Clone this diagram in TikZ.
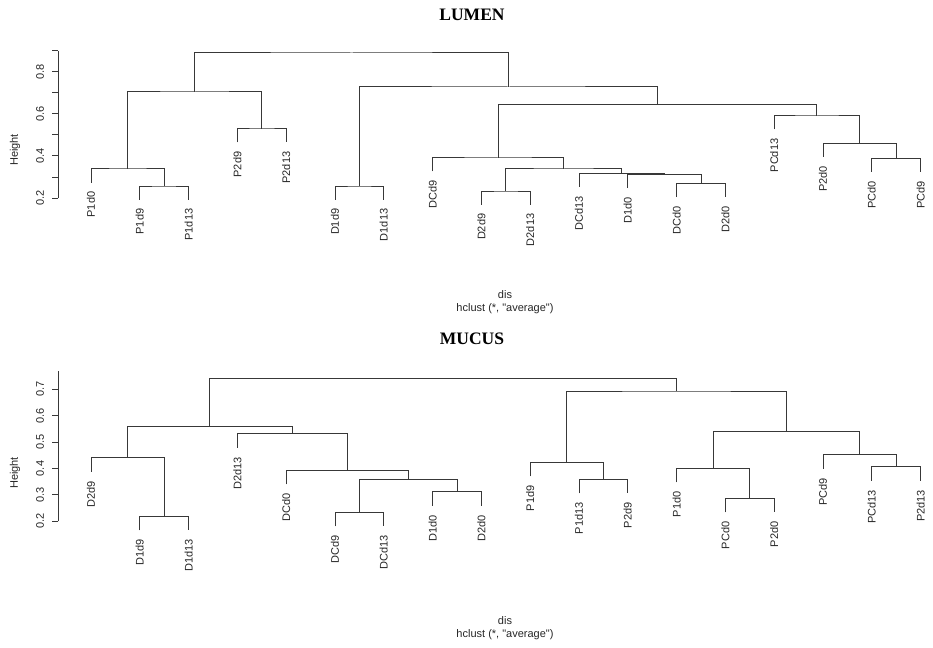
\documentclass[tikz,border=0pt]{standalone}
\usepackage{fontspec}
\setmainfont{Liberation Sans}[Ligatures=TeXOff]
\newfontfamily\ttlfont{Liberation Serif}
\usetikzlibrary{positioning}
\tikzset{
  link/.style   = {draw=black!78, line width=1pt},
  leaf/.style   = {rotate=90, anchor=east, inner sep=0pt, text=black!85,
                   font=\fontsize{11}{13}\selectfont},
  axlab/.style  = {rotate=90, inner sep=0pt, text=black!85,
                   font=\fontsize{11}{13}\selectfont},
  ttl/.style    = {font=\ttlfont\bfseries\fontsize{17.5}{20}\selectfont},
  sub/.style    = {align=center, text=black!85, font=\fontsize{11}{13}\selectfont}
}

\begin{document}
\begin{tikzpicture}[x=1pt,y=-1pt]
  \useasboundingbox (0,0) rectangle (933,647);

  % LUMEN
  \node[ttl] (L-title) at (472,15) {LUMEN};
  \draw[link] (58,198) -- (58,51);
  \foreach \yy in {198,177,156,135,114,93,72,51}
    \draw[link] (58,\yy) -- (52,\yy);
  \foreach \v/\yy in {0.2/198,0.4/156,0.6/114,0.8/72}
    \node[axlab] at (40,\yy) {\v};
  \node[axlab] (L-ylab) at (15,150) {Height};

  \foreach \lab/\xx/\yy in {P1d0/91/182.5, P1d9/139.8/199.5, P1d13/188.6/199.5,
      P2d9/237.4/142.5, P2d13/286.2/142.5, D1d9/335/199.5, D1d13/383.8/199.5,
      DCd9/432.6/171.5, D2d9/481.4/204.5, D2d13/530.2/204.5, DCd13/579/186.8,
      D1d0/627.8/188, DCd0/676.6/197.2, D2d0/725.4/197.2, PCd13/774.2/129.5,
      P2d0/823/156.8, PCd0/871.8/171.8, PCd9/920.6/171.8}{
    \coordinate (L-\lab) at (\xx,\yy);
    \node[leaf] (L-\lab-t) at ([yshift=-9pt]L-\lab) {\lab};
  }

  \coordinate (L-a) at (164.2,186);
  \coordinate (L-b) at (127.6,169);
  \coordinate (L-c) at (261.8,129);
  \coordinate (L-d) at (194.7,92);
  \coordinate (L-e) at (359.4,186);
  \coordinate (L-f) at (505.8,191);
  \coordinate (L-g) at (701,183.7);
  \coordinate (L-h) at (664.4,174.5);
  \coordinate (L-i) at (621.7,173.3);
  \coordinate (L-j) at (563.75,169);
  \coordinate (L-k) at (498.2,158);
  \coordinate (L-l) at (896.2,158.3);
  \coordinate (L-m) at (859.6,143.3);
  \coordinate (L-n) at (816.9,116);
  \coordinate (L-o) at (657.55,104.3);
  \coordinate (L-p) at (508.5,87);
  \coordinate (L-q) at (351.6,53);

  \draw[link] (L-P1d9) |- (L-a) -| (L-P1d13);
  \draw[link] (L-P1d0) |- (L-b) -| (L-a);
  \draw[link] (L-P2d9) |- (L-c) -| (L-P2d13);
  \draw[link] (L-b) |- (L-d) -| (L-c);
  \draw[link] (L-D1d9) |- (L-e) -| (L-D1d13);
  \draw[link] (L-D2d9) |- (L-f) -| (L-D2d13);
  \draw[link] (L-DCd0) |- (L-g) -| (L-D2d0);
  \draw[link] (L-D1d0) |- (L-h) -| (L-g);
  \draw[link] (L-DCd13) |- (L-i) -| (L-h);
  \draw[link] (L-f) |- (L-j) -| (L-i);
  \draw[link] (L-DCd9) |- (L-k) -| (L-j);
  \draw[link] (L-PCd0) |- (L-l) -| (L-PCd9);
  \draw[link] (L-P2d0) |- (L-m) -| (L-l);
  \draw[link] (L-PCd13) |- (L-n) -| (L-m);
  \draw[link] (L-k) |- (L-o) -| (L-n);
  \draw[link] (L-e) |- (L-p) -| (L-o);
  \draw[link] (L-d) |- (L-q) -| (L-p);

  \node[sub] (L-sub) at (505,302) {dis\\hclust (*, "average")};

  % MUCUS
  \node[ttl] (M-title) at (472,339) {MUCUS};
  \draw[link] (58,521.3) -- (58,371);
  \foreach \v/\yy in {0.2/521.3,0.3/494.9,0.4/468.5,0.5/442.1,0.6/415.7,0.7/389.3}{
    \draw[link] (58,\yy) -- (52,\yy);
    \node[axlab] at (40,\yy) {\v};
  }
  \node[axlab] (M-ylab) at (15,473) {Height};

  \foreach \lab/\xx/\yy in {D2d9/91/471.7, D1d9/139.8/530.3, D1d13/188.6/530.3,
      D2d13/237.4/447.7, DCd0/286.2/484.3, DCd9/335/526.3, DCd13/383.8/526.3,
      D1d0/432.6/505.7, D2d0/481.4/505.7, P1d9/530.2/476.3, P1d13/579/493.3,
      P2d9/627.8/493.3, P1d0/676.6/482.3, PCd0/725.4/512.3, P2d0/774.2/512.3,
      PCd9/823/468.7, PCd13/871.8/480.7, P2d13/920.6/480.7}{
    \coordinate (M-\lab) at (\xx,\yy);
    \node[leaf] (M-\lab-t) at ([yshift=-9pt]M-\lab) {\lab};
  }

  \coordinate (M-a) at (164.2,516.3);
  \coordinate (M-b) at (127.6,457.7);
  \coordinate (M-c) at (359.4,512.3);
  \coordinate (M-d) at (457,491.7);
  \coordinate (M-e) at (408.2,479.3);
  \coordinate (M-f) at (347.2,470.3);
  \coordinate (M-g) at (292.3,433.7);
  \coordinate (M-h) at (209.95,426.3);
  \coordinate (M-i) at (603.4,479.3);
  \coordinate (M-j) at (566.8,462.3);
  \coordinate (M-k) at (749.8,498.3);
  \coordinate (M-l) at (713.2,468.3);
  \coordinate (M-m) at (896.2,466.7);
  \coordinate (M-n) at (859.6,454.7);
  \coordinate (M-o) at (786.4,431.7);
  \coordinate (M-p) at (676.6,391);
  \coordinate (M-q) at (443.3,378.3);

  \draw[link] (M-D1d9) |- (M-a) -| (M-D1d13);
  \draw[link] (M-D2d9) |- (M-b) -| (M-a);
  \draw[link] (M-DCd9) |- (M-c) -| (M-DCd13);
  \draw[link] (M-D1d0) |- (M-d) -| (M-D2d0);
  \draw[link] (M-c) |- (M-e) -| (M-d);
  \draw[link] (M-DCd0) |- (M-f) -| (M-e);
  \draw[link] (M-D2d13) |- (M-g) -| (M-f);
  \draw[link] (M-b) |- (M-h) -| (M-g);
  \draw[link] (M-P1d13) |- (M-i) -| (M-P2d9);
  \draw[link] (M-P1d9) |- (M-j) -| (M-i);
  \draw[link] (M-PCd0) |- (M-k) -| (M-P2d0);
  \draw[link] (M-P1d0) |- (M-l) -| (M-k);
  \draw[link] (M-PCd13) |- (M-m) -| (M-P2d13);
  \draw[link] (M-PCd9) |- (M-n) -| (M-m);
  \draw[link] (M-l) |- (M-o) -| (M-n);
  \draw[link] (M-j) |- (M-p) -| (M-o);
  \draw[link] (M-h) |- (M-q) -| (M-p);

  \node[sub] (M-sub) at (505,628) {dis\\hclust (*, "average")};
\end{tikzpicture}
\end{document}
